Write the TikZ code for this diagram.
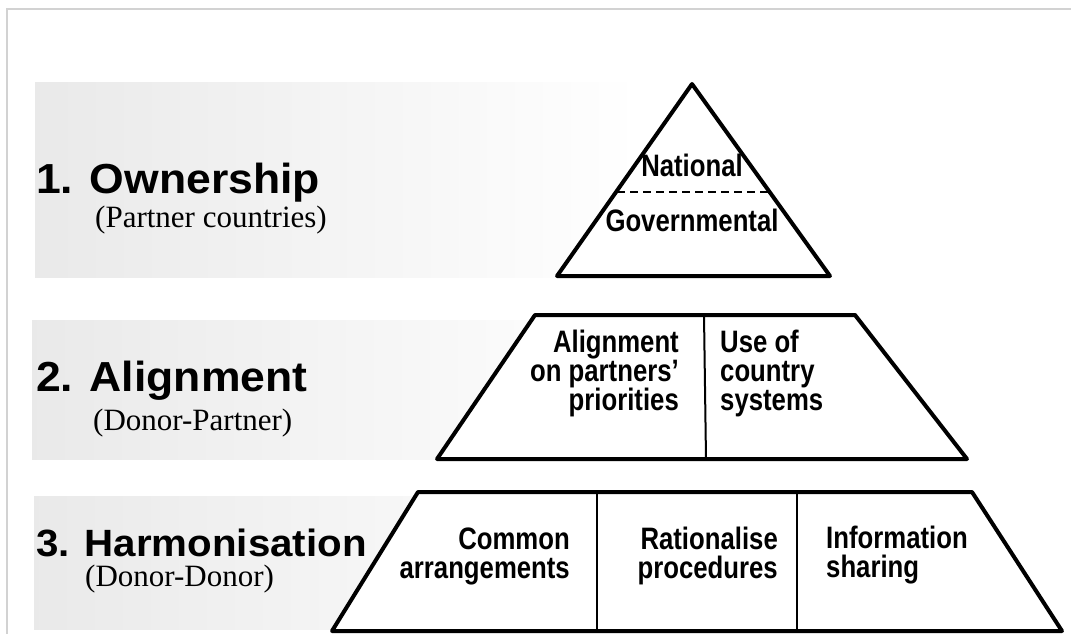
\documentclass[tikz,border=0pt]{standalone}
\usepackage{fontspec}
\setmainfont{Liberation Serif}
\newfontface\headfont[FakeStretch=1.06]{Liberation Sans Bold}
\newfontface\cellfont[FakeStretch=0.83]{Liberation Sans Bold}
\usetikzlibrary{positioning}
\tikzset{band/.style={left color=gray!17,right color=white,draw=none},
  level/.style={draw,line width=4pt,fill=white,line join=round},
  split/.style={draw,line width=2pt},
  head node/.style={anchor=base west,inner sep=0pt,font=\headfont\fontsize{42}{42}\selectfont},
  sub node/.style={anchor=base west,inner sep=0pt,font=\fontsize{31}{31}\selectfont},
  cell node/.style={inner sep=0pt,font=\cellfont\fontsize{31}{29}\selectfont},}

\begin{document}
\begin{tikzpicture}[x=1pt,y=-1pt]
    \useasboundingbox (0,0) rectangle (1071,634);
    \draw[gray!35,line width=1.5pt] (7,634) -- (7,9) -- (1071,9);

    % grey bands behind the three levels
    \shade[band] (35,83) rectangle (640,277);
    \shade[band] (32,320) rectangle (640,459);
    \shade[band] (34,496) rectangle (640,629);

    % level 1
    \draw[level] (692,84) -- (830,276) -- (557,276) -- cycle;
    \coordinate (nat w) at (617,192);
    \coordinate (nat e) at (768,192);
    \draw[line width=2.5pt,dash pattern=on 8pt off 5pt] (nat w) -- (nat e);
    \node[cell node] (national) at (692,165) {National};
    \node[cell node] (govern) at (692,220) {Governmental};

    % level 2
    \draw[level] (535,315) -- (855,315) -- (967,459) -- (437,459) -- cycle;
    \coordinate (al top) at (704,315);
    \coordinate (al bot) at (706,459);
    \draw[split] (al top) -- (al bot);
    \node[cell node,align=right,anchor=east] (align) at (679,373) {Alignment\\on partners’\\priorities};
    \node[cell node,align=left,anchor=west] (country) at (720,373) {Use of\\country\\systems};

    % level 3
    \draw[level] (418,492) -- (972,492) -- (1062,631) -- (332,631) -- cycle;
    \coordinate (h1 top) at (597,492);
    \coordinate (h1 bot) at (597,631);
    \coordinate (h2 top) at (797,492);
    \coordinate (h2 bot) at (797,631);
    \draw[split] (h1 top) -- (h1 bot);
    \draw[split] (h2 top) -- (h2 bot);
    \node[cell node,align=right,anchor=east] (common) at (570,556) {Common\\arrangements};
    \node[cell node,align=right,anchor=east] (ration) at (778,556) {Rationalise\\procedures};
    \node[cell node,align=left,anchor=west] (inform) at (826,555) {Information\\sharing};

    % level names
    \node[head node] (own) at (36,193) {1. Ownership};
    \node[sub node] (own sub) at (95,227) {(Partner countries)};
    \node[head node] (ali) at (36,391) {2. Alignment};
    \node[sub node] (ali sub) at (93,430) {(Donor-Partner)};
    \node[head node,font=\headfont\fontsize{38}{38}\selectfont] (har) at (36,556) {3. Harmonisation};
    \node[sub node] (har sub) at (85,586) {(Donor-Donor)};
\end{tikzpicture}
\end{document}
